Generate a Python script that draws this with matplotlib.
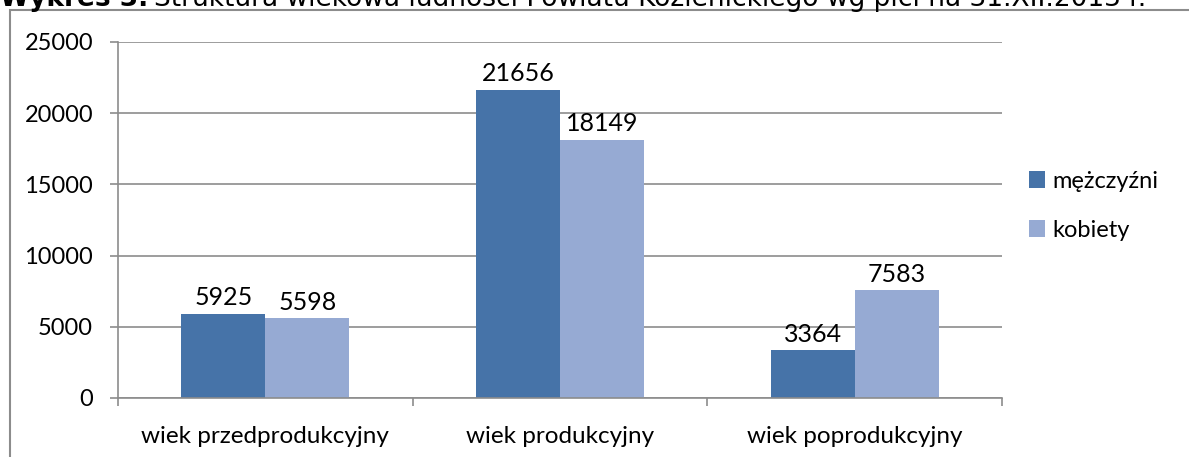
import numpy as np
import matplotlib.pyplot as plt
from matplotlib.patches import Rectangle

plt.rcParams['font.family'] = ['Lato', 'DejaVu Sans']

categories = ['wiek przedprodukcyjny', 'wiek produkcyjny', 'wiek poprodukcyjny']
men = [5925, 21656, 3364]
women = [5598, 18149, 7583]
series_names = ['mężczyźni', 'kobiety']
yticks = [0, 5000, 10000, 15000, 20000, 25000]
title_bold = 'Wykres 3.'
title_rest = 'Struktura wiekowa ludności Powiatu Kozienickiego wg płci na 31.XII.2013 r.'

c_men = '#4673a8'
c_women = '#96aad3'
grid_c = '#8c8c8c'
W, H = 1189, 457

fig = plt.figure(figsize=(W/100, H/100), dpi=100)
ax = fig.add_axes([118/W, 1 - 398/H, (1002 - 118)/W, (398 - 42)/H])

# chart frame, partly cut off by image edges
fig.patches.append(Rectangle((10/W, -0.1), 1.2, 1 - 10/H + 0.1, transform=fig.transFigure,
                             fill=False, edgecolor=grid_c, lw=1.5))

# title, clipped at the top like the source; scale font to span ~1145 px
def draw_title(fs):
    t1 = fig.text(0, 1 - 6/H, title_bold, fontsize=fs, fontweight='bold', va='baseline',
                  family='DejaVu Sans')
    fig.canvas.draw()
    bb = t1.get_window_extent()
    t2 = fig.text((bb.x1 + 0.3*fs)/W, 1 - 6/H, title_rest, fontsize=fs, va='baseline',
                  family='DejaVu Sans')
    fig.canvas.draw()
    return t1, t2

t1, t2 = draw_title(15)
span = t2.get_window_extent().x1
t1.remove(); t2.remove()
draw_title(15 * 1145 / span)

x = np.arange(len(categories))
w = 0.285
b1 = ax.bar(x - w/2, men, w, color=c_men, label=series_names[0])
b2 = ax.bar(x + w/2, women, w, color=c_women, label=series_names[1])

for bars in (b1, b2):
    for r in bars:
        ax.annotate(str(int(r.get_height())), (r.get_x() + r.get_width()/2, r.get_height()),
                    xytext=(0, 3), textcoords='offset points', ha='center', va='bottom',
                    fontsize=18)

ax.set_xlim(-0.5, 2.5)
ax.set_ylim(0, 25000)
ax.set_yticks(yticks)
ax.set_yticklabels([str(v) for v in yticks], fontsize=17)
ax.yaxis.grid(True, color=grid_c, lw=1.2)
ax.set_axisbelow(True)

ax.set_xticks([-0.5, 0.5, 1.5, 2.5])
ax.set_xticklabels([])
ax.set_xticks(x, minor=True)
ax.set_xticklabels(categories, minor=True, fontsize=17.5)
ax.tick_params(axis='x', which='minor', length=0, pad=20)
ax.tick_params(axis='x', which='major', length=6, color=grid_c, width=1.2)
ax.tick_params(axis='y', length=6, color=grid_c, width=1.2, pad=12)

for s in ['top', 'right']:
    ax.spines[s].set_visible(False)
for s in ['left', 'bottom']:
    ax.spines[s].set_color(grid_c)
    ax.spines[s].set_linewidth(1.2)

ax.legend(loc='center left', bbox_to_anchor=(1.006, 0.54), frameon=False, fontsize=17,
          handlelength=0.7, handleheight=0.7, handletextpad=0.3, labelspacing=1.2)

fig.savefig('out.png', dpi=100)
